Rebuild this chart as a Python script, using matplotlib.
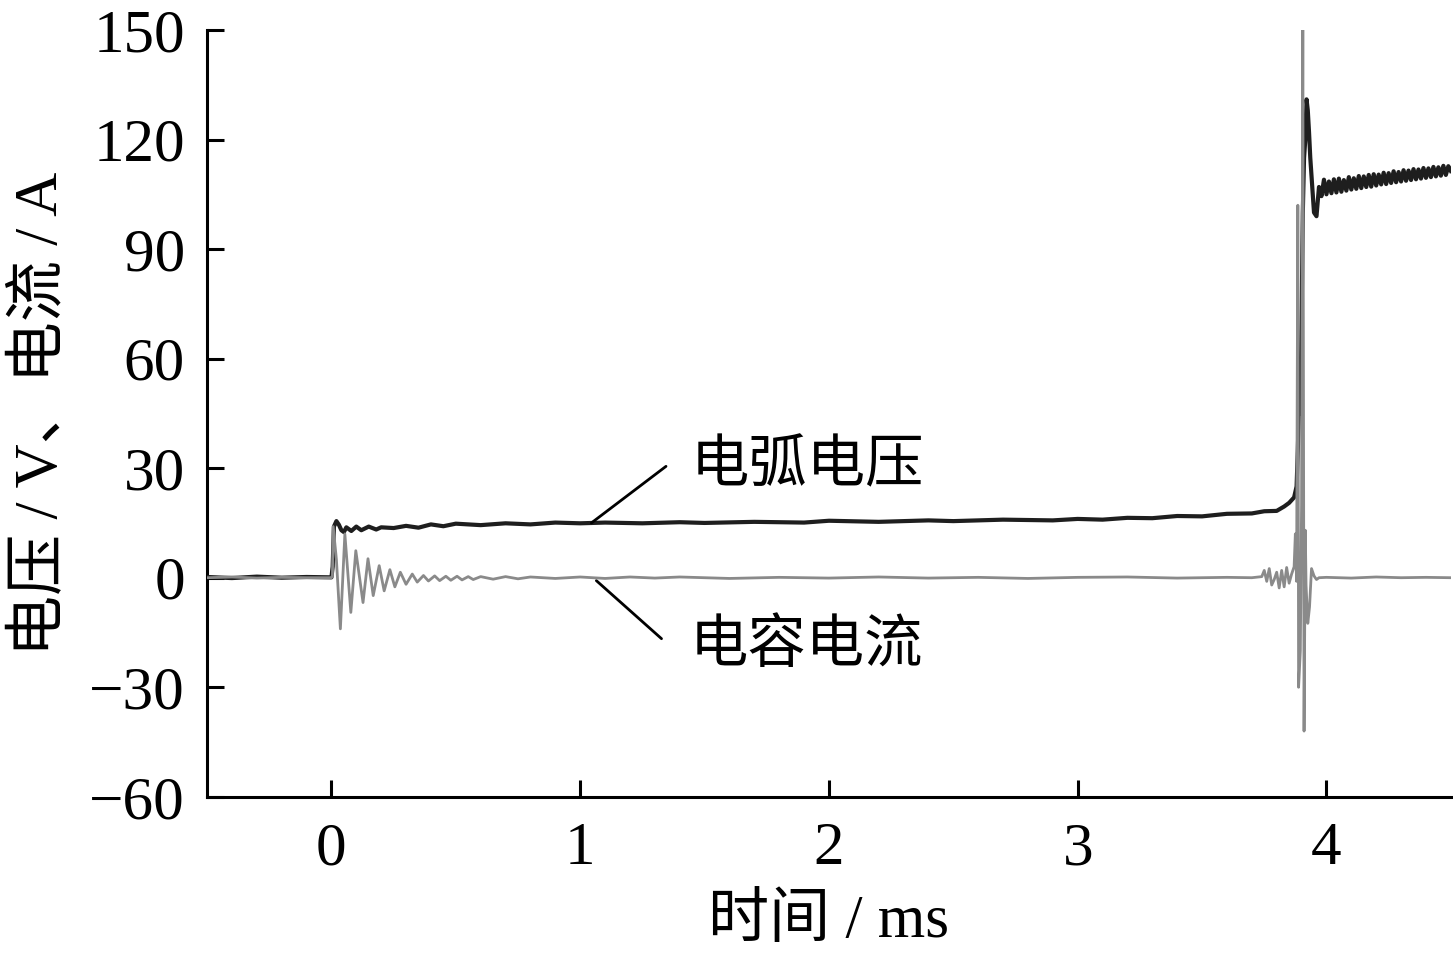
import matplotlib.pyplot as plt

# arc voltage (V)
t_v = [-0.5, -0.4, -0.3, -0.2, -0.1, 0.0, 0.005, 0.01, 0.02, 0.03, 0.04, 0.05,
       0.06, 0.08, 0.10, 0.12, 0.15, 0.18, 0.20, 0.25, 0.30, 0.35, 0.40, 0.45,
       0.50, 0.60, 0.70, 0.80, 0.90, 1.00, 1.10, 1.25, 1.40, 1.50, 1.70, 1.90,
       2.00, 2.20, 2.40, 2.50, 2.70, 2.90, 3.00, 3.10, 3.20, 3.30, 3.40, 3.50,
       3.60, 3.70, 3.75, 3.80, 3.83, 3.85, 3.87, 3.88, 3.885, 3.89, 3.895, 3.90,
       3.905, 3.91, 3.915, 3.92, 3.925, 3.93, 3.935, 3.94, 3.95, 3.96, 3.965]
v_v = [0.2, -0.1, 0.3, 0.0, 0.2, 0.1, 3.0, 14.0, 15.5, 14.5, 13.0, 12.5,
       13.8, 12.8, 14.0, 13.0, 14.0, 13.2, 13.8, 13.6, 14.2, 13.7, 14.6, 14.1,
       14.8, 14.4, 14.9, 14.6, 15.1, 14.9, 15.1, 14.9, 15.2, 15.0, 15.3, 15.1,
       15.6, 15.3, 15.7, 15.5, 15.9, 15.7, 16.1, 15.9, 16.4, 16.3, 16.9, 16.8,
       17.5, 17.6, 18.2, 18.3, 19.5, 20.5, 22.0, 25.0, 35.0, 48.0, 45.0, 70.0,
       100.0, 115.0, 120.0, 131.0, 128.0, 122.0, 115.0, 110.0, 100.0, 99.0, 103.0]

# noisy band after re-ignition
t_band = [3.97, 3.98, 3.99, 4.00, 4.01, 4.02, 4.03, 4.04, 4.05, 4.06, 4.07,
          4.08, 4.09, 4.10, 4.11, 4.12, 4.13, 4.14, 4.15, 4.16, 4.17, 4.18,
          4.19, 4.20, 4.21, 4.22, 4.23, 4.24, 4.25, 4.26, 4.27, 4.28, 4.29,
          4.30, 4.31, 4.32, 4.33, 4.34, 4.35, 4.36, 4.37, 4.38, 4.39, 4.40,
          4.41, 4.42, 4.43, 4.44, 4.45, 4.46, 4.47, 4.48, 4.49, 4.50]
v_band = [107.0, 104.5, 109.0, 105.0, 108.5, 105.3, 109.1, 105.5, 109.3, 105.7,
          108.9, 106.0, 109.7, 106.3, 109.4, 106.5, 110.0, 106.7, 109.9, 107.0,
          110.3, 107.1, 110.5, 107.4, 110.4, 107.7, 110.9, 107.8, 110.8, 108.1,
          111.3, 108.3, 111.1, 108.5, 111.6, 108.7, 111.5, 108.9, 111.9, 109.1,
          111.8, 109.3, 112.2, 109.5, 112.1, 109.7, 112.5, 109.9, 112.4, 110.1,
          112.8, 110.3, 112.7, 111.4]

# capacitor current (A)
t_i = [-0.5, -0.4, -0.3, -0.2, -0.1, 0.0, 0.004, 0.007, 0.02, 0.036, 0.054,
       0.078, 0.098, 0.127, 0.147, 0.168, 0.192, 0.212, 0.235, 0.255, 0.277,
       0.30, 0.325, 0.345, 0.37, 0.39, 0.415, 0.435, 0.46, 0.48, 0.505, 0.525,
       0.55, 0.57, 0.60, 0.65, 0.70, 0.75, 0.80, 0.90, 1.00, 1.10, 1.20, 1.30,
       1.40, 1.60, 1.80, 2.00, 2.20, 2.40, 2.60, 2.80, 3.00, 3.20, 3.40, 3.60,
       3.70, 3.74, 3.75, 3.76, 3.77, 3.78, 3.79, 3.80, 3.81, 3.82, 3.83, 3.84,
       3.85, 3.86, 3.87, 3.875, 3.88, 3.885, 3.888, 3.895, 3.90, 3.905, 3.91,
       3.915, 3.918, 3.925, 3.932, 3.94, 3.95, 3.96, 3.97, 4.00, 4.10, 4.20,
       4.30, 4.40, 4.50]
v_i = [0.0, 0.2, -0.1, 0.1, 0.0, 0.0, 0.5, 14.0, 5.0, -14.0, 12.0,
       -9.5, 7.4, -6.8, 5.2, -4.9, 3.3, -3.6, 2.2, -2.5, 1.5,
       -1.8, 1.0, -1.2, 0.6, -0.9, 0.5, -0.8, 0.4, -0.7, 0.4, -0.6,
       0.3, -0.5, 0.3, -0.4, 0.3, -0.3, 0.2, -0.2, 0.2, -0.2, 0.2, -0.1,
       0.2, -0.2, 0.1, -0.1, 0.2, -0.1, 0.1, -0.2, 0.1, 0.2, -0.1, 0.1,
       0.0, 0.3, 2.0, -1.0, 2.5, -2.0, -0.5, 1.5, -2.8, 2.0, -2.5, 2.8,
       -1.5, 1.0, 3.0, 12.0, -1.0, 102.0, -30.0, -20.0, 20.0, 150.0, -42.0,
       13.0, -2.0, -12.5, -8.0, 2.5, 0.5, -0.5, 0.0, 0.1, -0.1, 0.2,
       0.0, 0.1, 0.0]

fig = plt.figure(figsize=(14.53, 9.67), dpi=100)
ax = fig.add_axes([0.1425, 0.176, 0.856, 0.793])

ax.plot(t_v + t_band, v_v + v_band, color='#1e1e1e', lw=3.0, zorder=3)
ax.plot(t_i, v_i, color='#8a8a8a', lw=2.0, zorder=4)

ax.set_xlim(-0.5, 4.5)
ax.set_ylim(-60, 150)
ax.set_xticks([0, 1, 2, 3, 4])
ax.set_yticks([-60, -30, 0, 30, 60, 90, 120, 150])

for s in ['top', 'right']:
    ax.spines[s].set_visible(False)
for s in ['left', 'bottom']:
    ax.spines[s].set_linewidth(2.2)

ax.tick_params(direction='in', length=12, width=2.2, labelsize=44)
ax.tick_params(axis='x', pad=18)
ax.tick_params(axis='y', pad=16)
for lab in ax.get_xticklabels() + ax.get_yticklabels():
    lab.set_family('Liberation Serif')

fam = ['Liberation Serif', 'Noto Sans CJK SC']
ax.set_xlabel('时间 / ms', family=fam, fontsize=44, labelpad=12)
ax.set_ylabel('电压 / V、电流 / A', family=fam, fontsize=44, labelpad=14)

# annotations with leader lines
ax.text(1.445, 30.5, '电弧电压', family='Noto Sans CJK SC', fontsize=42,
        ha='left', va='center')
ax.annotate('', xy=(1.045, 15.0), xytext=(1.345, 30.5),
            arrowprops=dict(arrowstyle='-', color='black', lw=2, shrinkA=0, shrinkB=0))
ax.text(1.44, -18.6, '电容电流', family='Noto Sans CJK SC', fontsize=42,
        ha='left', va='center')
ax.annotate('', xy=(1.065, -0.8), xytext=(1.327, -16.7),
            arrowprops=dict(arrowstyle='-', color='black', lw=2, shrinkA=0, shrinkB=0))

fig.savefig('out.png', dpi=100)
